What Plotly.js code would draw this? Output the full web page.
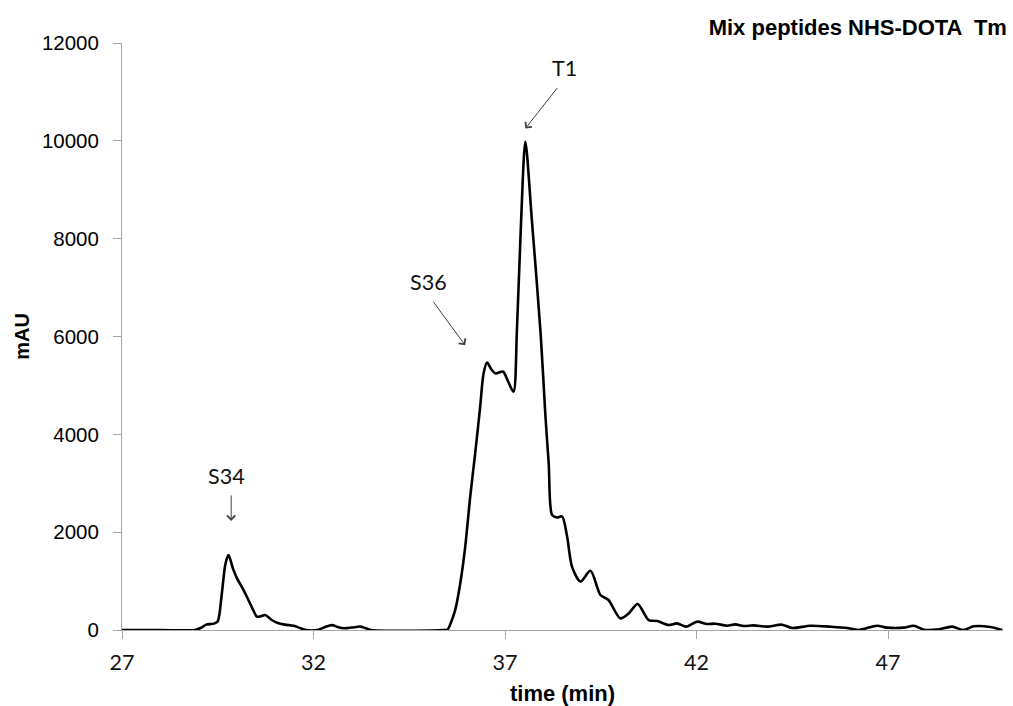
<!DOCTYPE html>
<html>
<head>
<meta charset="utf-8">
<script src="https://cdn.plot.ly/plotly-3.0.1.min.js"></script>
<style>
  html, body { margin: 0; padding: 0; background: #fff; }
  #chart { width: 1013px; height: 706px; }
</style>
</head>
<body>
<div id="chart"></div>
<script>
// Chromatogram of the NHS-DOTA peptide mix: retention time (min) vs absorbance (mAU)
const timeMin = [
  27.0, 28.0, 28.9, 29.05, 29.2, 29.4, 29.5, 29.6, 29.7, 29.78,
  29.9, 30.0, 30.15, 30.26, 30.4, 30.52, 30.62, 30.74, 30.9, 31.05,
  31.25, 31.48, 31.65, 31.8, 32.1, 32.3, 32.48, 32.65, 32.8, 33.0,
  33.22, 33.35, 33.5, 35.4, 35.5, 35.6, 35.7, 35.83, 35.96, 36.09,
  36.22, 36.35, 36.44, 36.53, 36.64, 36.75, 36.95, 37.08, 37.22, 37.31,
  37.42, 37.53, 37.7, 37.93, 38.05, 38.14, 38.23, 38.36, 38.49, 38.62,
  38.75, 38.97, 39.23, 39.49, 39.7, 40.01, 40.23, 40.46, 40.75, 40.97,
  41.27, 41.49, 41.73, 42.01, 42.27, 42.49, 42.8, 43.01, 43.23, 43.49,
  43.84, 44.23, 44.49, 44.97, 45.49, 45.93, 46.23, 46.71, 46.97, 47.41,
  47.67, 47.93, 48.28, 48.67, 48.97, 49.24, 49.67, 49.98
];
const absorbanceMAU = [
  0, 0, 0, 40, 110, 130, 180, 700, 1350, 1530,
  1250, 1060, 850, 680, 450, 275, 280, 305, 210, 150,
  110, 85, 40, 0, 0, 60, 100, 55, 35, 50,
  70, 40, 0, 0, 10, 180, 410, 950, 1700, 2720,
  3610, 4560, 5250, 5470, 5330, 5245, 5280, 5080, 4870, 6130,
  8380, 9980, 8380, 6050, 4430, 3400, 2350, 2300, 2320, 1910,
  1290, 990, 1210, 715, 613, 238, 340, 531, 204, 184,
  102, 136, 68, 170, 123, 129, 88, 116, 82, 95,
  68, 109, 41, 88, 68, 41, 0, 88, 48, 48,
  88, 7, 7, 68, 0, 75, 61, 0
];

// Peak labels and where their arrows point (time, mAU)
const peakNames = ['S34', 'S36', 'T1'];
const arrowTipTime = [29.85, 35.96, 37.53];
const arrowTipMAU = [2230, 5820, 10250];

const arial = 'Liberation Sans, Arial, sans-serif';
const tickFont = { family: arial, size: 20.5, color: '#000' };
const calibriLike = { family: 'Lato, Carlito, Calibri, sans-serif', size: 21.5, color: '#111' };

// arrow tail offsets (px) and label centre offsets relative to the arrow tip
const arrowTail = [[0, -27], [-33, -45], [33, -42]];
const labelOffset = [[-5, -45], [-37, -63], [39, -61]];

const annotations = [];
peakNames.forEach((name, i) => {
  annotations.push({
    x: arrowTipTime[i], y: arrowTipMAU[i], xref: 'x', yref: 'y',
    text: '', showarrow: true, arrowhead: 4, arrowsize: 1.6, arrowwidth: 1,
    arrowcolor: '#404040', ax: arrowTail[i][0], ay: arrowTail[i][1], standoff: 0, startstandoff: 0
  });
  annotations.push({
    x: arrowTipTime[i], y: arrowTipMAU[i], xref: 'x', yref: 'y',
    text: name, showarrow: false, font: calibriLike,
    xshift: labelOffset[i][0], yshift: -labelOffset[i][1],
    xanchor: 'center', yanchor: 'middle'
  });
});

const trace = {
  x: timeMin, y: absorbanceMAU, type: 'scatter', mode: 'lines',
  line: { color: '#000', width: 2.6, shape: 'spline', smoothing: 0.8 },
  cliponaxis: false, hoverinfo: 'x+y'
};

const layout = {
  width: 1013, height: 706,
  margin: { l: 122, r: 10, t: 43, b: 76 },
  paper_bgcolor: '#fff', plot_bgcolor: '#fff',
  showlegend: false,
  title: {
    text: 'Mix peptides NHS-DOTA \u00a0Tm',
    font: { family: arial, size: 22, weight: 'bold', color: '#000' },
    xref: 'container', yref: 'container', x: 0.994, xanchor: 'right', y: 0.962, yanchor: 'middle'
  },
  xaxis: {
    range: [27, 50], tick0: 27, dtick: 5, tickmode: 'linear',
    showgrid: false, zeroline: false, showline: true, linecolor: '#a6a6a6', linewidth: 1,
    ticks: 'outside', ticklen: 8, tickcolor: '#a6a6a6', tickwidth: 1,
    tickfont: calibriLike, ticklabelstandoff: 5, layer: 'below traces',
    title: { text: 'time (min)', font: { family: arial, size: 22, weight: 'bold', color: '#000' }, standoff: 12 }
  },
  yaxis: {
    range: [0, 12000], tick0: 0, dtick: 2000, tickmode: 'linear', tickformat: 'd',
    showgrid: false, zeroline: false, showline: true, linecolor: '#a6a6a6', linewidth: 1,
    ticks: 'outside', ticklen: 8, tickcolor: '#a6a6a6', tickwidth: 1,
    tickfont: tickFont, ticklabelstandoff: 10, layer: 'below traces',
    title: { text: 'mAU', font: { family: arial, size: 20, weight: 'bold', color: '#000' }, standoff: 6 }
  },
  annotations: annotations
};

Plotly.newPlot('chart', [trace], layout, { staticPlot: true, displayModeBar: false });
</script>
</body>
</html>
